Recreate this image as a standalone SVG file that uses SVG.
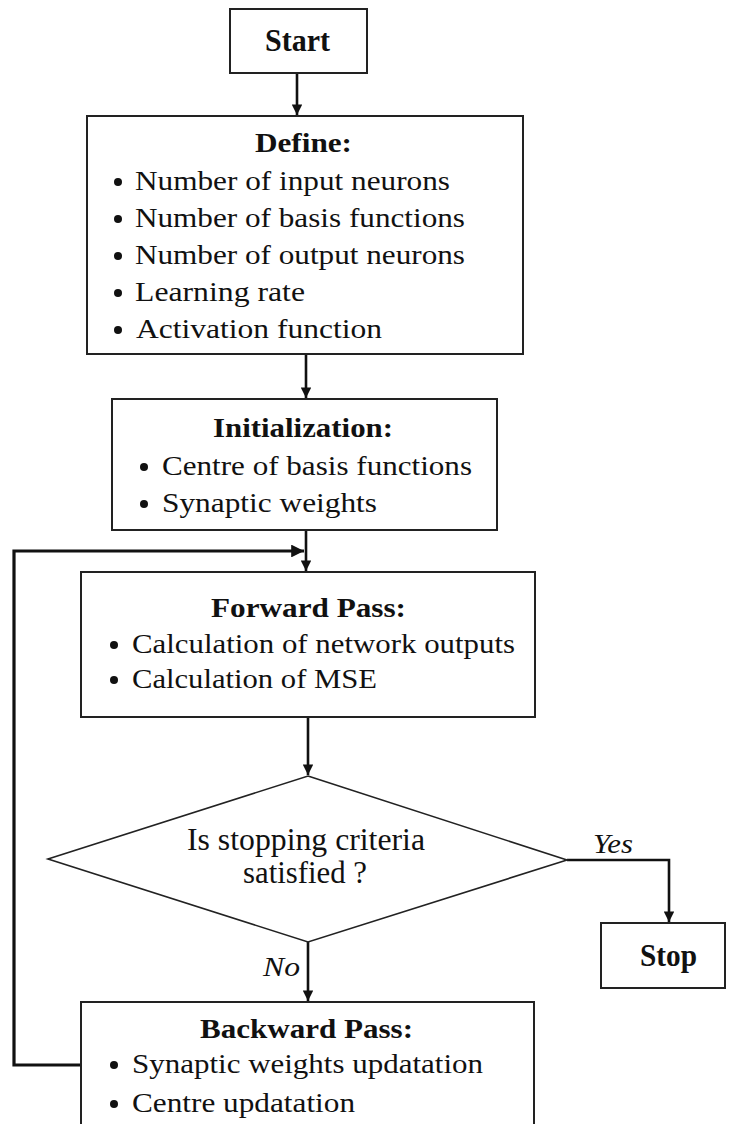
<svg xmlns="http://www.w3.org/2000/svg" width="730" height="1124" viewBox="0 0 730 1124">
  <style>
    .box { fill: #ffffff; stroke: #222222; stroke-width: 2; }
    .dia { fill: #ffffff; stroke: #222222; stroke-width: 1.6; }
    .ln { fill: none; stroke: #111111; stroke-width: 2.6; }
    .loop { fill: none; stroke: #111111; stroke-width: 3.2; }
    text { font-family: "Liberation Serif", "Times New Roman", serif; fill: #111111; }
    .ttl { font-weight: bold; font-size: 28px; }
    .big { font-weight: bold; font-size: 31px; }
    .itm { font-size: 28px; }
    .q { font-size: 31px; }
    .lbl { font-size: 27px; font-style: italic; }
    .dot { fill: #111111; }
  </style>
  <defs>
    <marker id="arr" viewBox="0 0 10 10" refX="10" refY="5" markerWidth="4.4" markerHeight="4" orient="auto" markerUnits="strokeWidth">
      <path d="M0,0 L10,5 L0,10 Z" fill="#111111"/>
    </marker>
  </defs>

  <rect width="730" height="1124" fill="#ffffff"/>

  <!-- connectors -->
  <g id="connectors">
    <line class="ln" x1="297" y1="73" x2="297" y2="115" marker-end="url(#arr)"/>
    <line class="ln" x1="306" y1="354" x2="306" y2="398" marker-end="url(#arr)"/>
    <line class="ln" x1="306" y1="530" x2="306" y2="571" marker-end="url(#arr)"/>
    <line class="ln" x1="308" y1="717" x2="308" y2="775" marker-end="url(#arr)"/>
    <line class="ln" x1="308" y1="942" x2="308" y2="1001" marker-end="url(#arr)"/>
    <polyline class="ln" points="567,860 669,860 669,922" marker-end="url(#arr)"/>
    <polyline class="loop" points="81,1065 14,1065 14,551 304,551" marker-end="url(#arr)"/>
    <text class="lbl" x="593" y="853" textLength="40" lengthAdjust="spacingAndGlyphs">Yes</text>
    <text class="lbl" x="263" y="976" textLength="37" lengthAdjust="spacingAndGlyphs">No</text>
  </g>

  <!-- start -->
  <g id="start">
    <rect class="box" x="230" y="9" width="137" height="64"/>
    <text class="big" x="265" y="51" textLength="65" lengthAdjust="spacingAndGlyphs">Start</text>
  </g>

  <!-- parameter definition -->
  <g id="define">
    <rect class="box" x="87" y="116" width="436" height="238"/>
    <text class="ttl" x="255" y="152" textLength="97" lengthAdjust="spacingAndGlyphs">Define:</text>
    <circle class="dot" cx="118" cy="182" r="4"/>
    <text class="itm" x="135" y="190" textLength="315" lengthAdjust="spacingAndGlyphs">Number of input neurons</text>
    <circle class="dot" cx="118" cy="219" r="4"/>
    <text class="itm" x="135" y="227" textLength="330" lengthAdjust="spacingAndGlyphs">Number of basis functions</text>
    <circle class="dot" cx="118" cy="256" r="4"/>
    <text class="itm" x="135" y="264" textLength="330" lengthAdjust="spacingAndGlyphs">Number of output neurons</text>
    <circle class="dot" cx="118" cy="293" r="4"/>
    <text class="itm" x="135" y="301" textLength="170" lengthAdjust="spacingAndGlyphs">Learning rate</text>
    <circle class="dot" cx="118" cy="330" r="4"/>
    <text class="itm" x="136" y="338" textLength="246" lengthAdjust="spacingAndGlyphs">Activation function</text>
  </g>

  <!-- initialization -->
  <g id="init">
    <rect class="box" x="112" y="399" width="385" height="131"/>
    <text class="ttl" x="213" y="437" textLength="180" lengthAdjust="spacingAndGlyphs">Initialization:</text>
    <circle class="dot" cx="144" cy="467" r="4"/>
    <text class="itm" x="162" y="475" textLength="310" lengthAdjust="spacingAndGlyphs">Centre of basis functions</text>
    <circle class="dot" cx="144" cy="504" r="4"/>
    <text class="itm" x="162" y="512" textLength="215" lengthAdjust="spacingAndGlyphs">Synaptic weights</text>
  </g>

  <!-- forward pass -->
  <g id="forward">
    <rect class="box" x="81" y="572" width="454" height="145"/>
    <text class="ttl" x="211" y="617" textLength="195" lengthAdjust="spacingAndGlyphs">Forward Pass:</text>
    <circle class="dot" cx="114" cy="645" r="4"/>
    <text class="itm" x="132" y="653" textLength="383" lengthAdjust="spacingAndGlyphs">Calculation of network outputs</text>
    <circle class="dot" cx="114" cy="680" r="4"/>
    <text class="itm" x="132" y="688" textLength="245" lengthAdjust="spacingAndGlyphs">Calculation of MSE</text>
  </g>

  <!-- stopping test -->
  <g id="decision">
    <polygon class="dia" points="308,776 567,860 308,942 48,859"/>
    <text class="q" x="187" y="850" textLength="238" lengthAdjust="spacingAndGlyphs">Is stopping criteria</text>
    <text class="q" x="243" y="883" textLength="124" lengthAdjust="spacingAndGlyphs">satisfied ?</text>
  </g>

  <!-- stop -->
  <g id="stop">
    <rect class="box" x="601" y="923" width="124" height="65"/>
    <text class="big" x="640" y="966" textLength="57" lengthAdjust="spacingAndGlyphs">Stop</text>
  </g>

  <!-- backward pass -->
  <g id="backward">
    <rect class="box" x="81" y="1002" width="453" height="140"/>
    <text class="ttl" x="200" y="1038" textLength="213" lengthAdjust="spacingAndGlyphs">Backward Pass:</text>
    <circle class="dot" cx="114" cy="1065" r="4"/>
    <text class="itm" x="132" y="1073" textLength="351" lengthAdjust="spacingAndGlyphs">Synaptic weights updatation</text>
    <circle class="dot" cx="114" cy="1104" r="4"/>
    <text class="itm" x="132" y="1112" textLength="223" lengthAdjust="spacingAndGlyphs">Centre updatation</text>
  </g>
</svg>
